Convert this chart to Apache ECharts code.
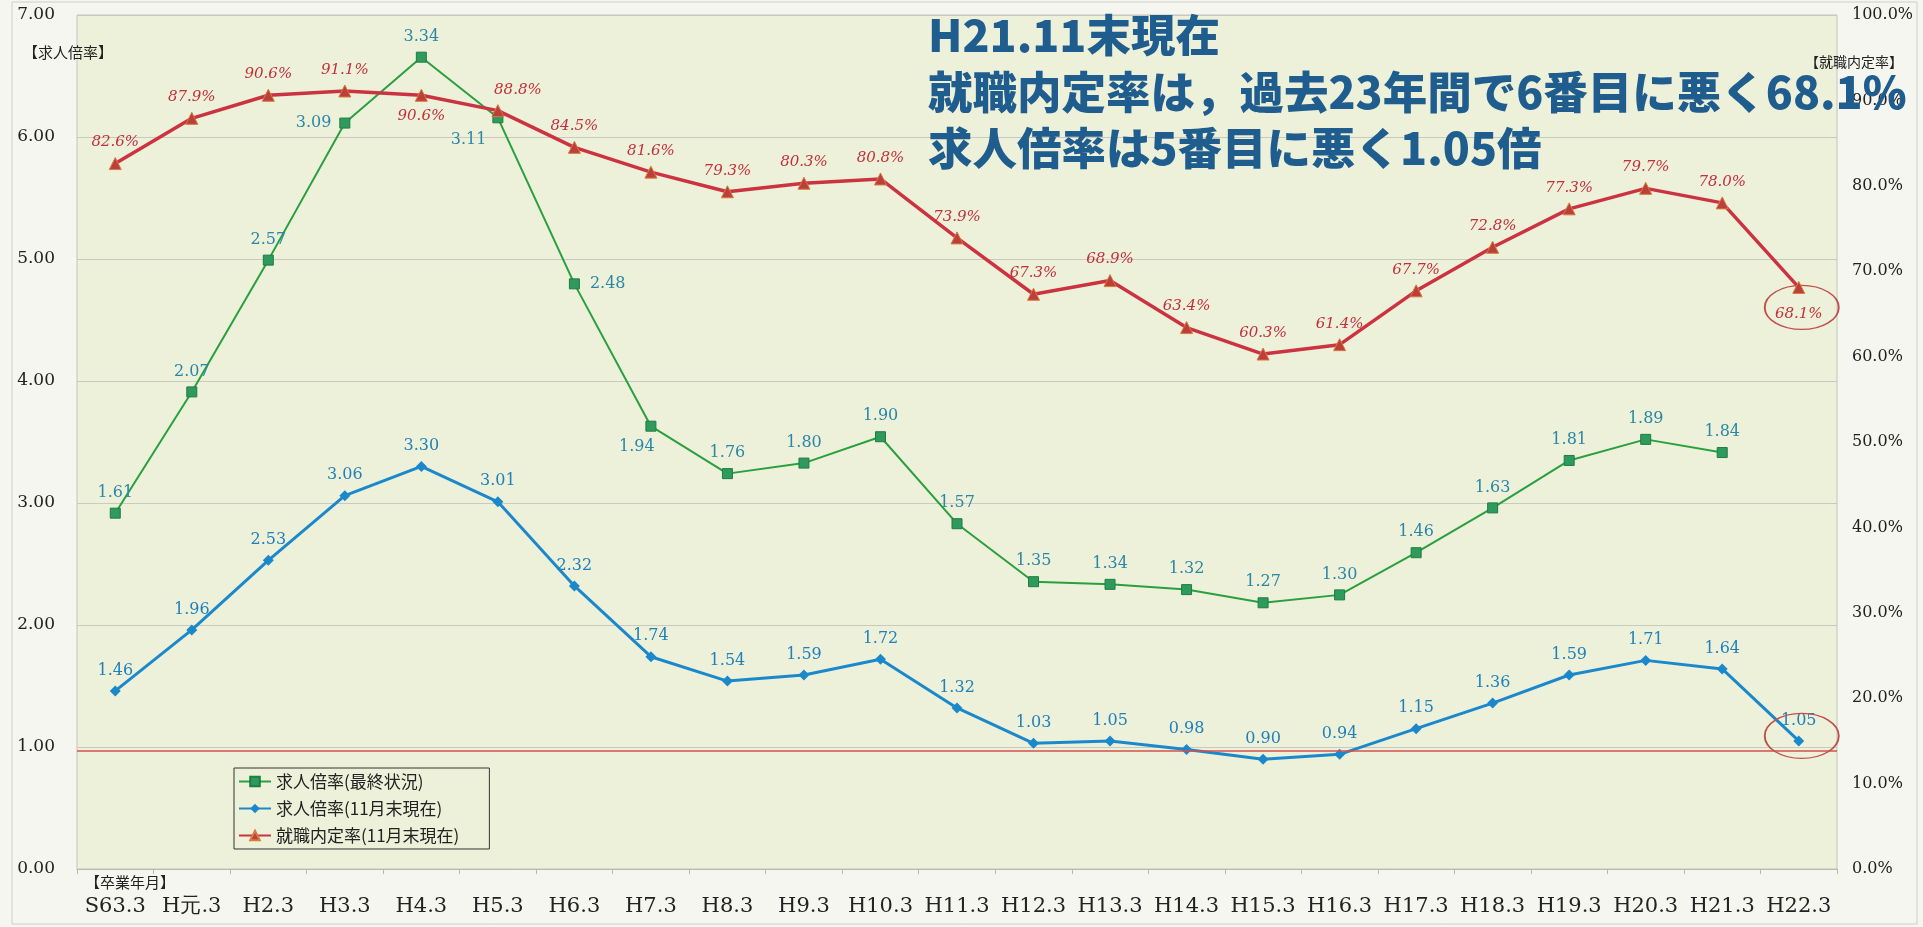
<!DOCTYPE html>
<html>
<head>
<meta charset="utf-8">
<title>求人倍率・就職内定率の推移</title>
<script src="https://cdn.jsdelivr.net/npm/echarts@6/dist/echarts.min.js"></script>
<style>
    html, body { margin: 0; padding: 0; background: #f5f6f0; }
    #main { width: 1923px; height: 927px; }
</style>
</head>
<body>
<div id="main"></div>
<script>
    // 卒業年月
    var categories = ['S63.3', 'H元.3', 'H2.3', 'H3.3', 'H4.3', 'H5.3', 'H6.3', 'H7.3', 'H8.3', 'H9.3', 'H10.3', 'H11.3',
        'H12.3', 'H13.3', 'H14.3', 'H15.3', 'H16.3', 'H17.3', 'H18.3', 'H19.3', 'H20.3', 'H21.3', 'H22.3'];
    // 求人倍率(最終状況)
    var finalRatio = [1.61, 2.07, 2.57, 3.09, 3.34, 3.11, 2.48, 1.94, 1.76, 1.80, 1.90, 1.57,
        1.35, 1.34, 1.32, 1.27, 1.30, 1.46, 1.63, 1.81, 1.89, 1.84, null];
    // 求人倍率(11月末現在)
    var novRatio = [1.46, 1.96, 2.53, 3.06, 3.30, 3.01, 2.32, 1.74, 1.54, 1.59, 1.72, 1.32,
        1.03, 1.05, 0.98, 0.90, 0.94, 1.15, 1.36, 1.59, 1.71, 1.64, 1.05];
    // 就職内定率(11月末現在)
    var naiteiRate = [82.6, 87.9, 90.6, 91.1, 90.6, 88.8, 84.5, 81.6, 79.3, 80.3, 80.8, 73.9,
        67.3, 68.9, 63.4, 60.3, 61.4, 67.7, 72.8, 77.3, 79.7, 78.0, 68.1];
    var seriesNames = ['求人倍率(最終状況)', '求人倍率(11月末現在)', '就職内定率(11月末現在)'];
    var titleLines = ['H21.11末現在', '就職内定率は，過去23年間で6番目に悪く68.1%', '求人倍率は5番目に悪く1.05倍'];
    var baseLine = 0.97;

    // ラベル位置の個別調整
    var greenLabelFix = {
        3: { position: 'left', distance: 8 },
        5: { position: 'left', distance: 6, offset: [0, 22] },
        6: { position: 'right', distance: 10 },
        7: { position: 'bottom', offset: [-14, 0] }
    };
    var redLabelFix = {
        4: { position: 'bottom' },
        5: { position: 'top', offset: [20, 0] },
        22: { position: 'bottom', distance: 13 }
    };

    function buildData(values, fix) {
        var list = [];
        for (var i = 0; i < values.length; i++) {
            var item = { value: values[i] };
            if (fix[i]) {
                item.label = fix[i];
            }
            list.push(item);
        }
        return list;
    }

    var serif = 'DejaVu Serif';
    var cjk = 'Noto Sans CJK JP';
    var myChart = echarts.init(document.getElementById('main'));
    var option = {
        backgroundColor: '#f5f6f0',
        animation: false,
        title: [
            {
                text: titleLines.join('\n'),
                left: 928,
                top: 7,
                padding: 0,
                textStyle: { fontFamily: cjk, fontSize: 44.5, fontWeight: 900, lineHeight: 56.5, color: '#1f5d8f' }
            },
            { text: '【求人倍率】', left: 18, top: 40, textStyle: { fontFamily: cjk, fontSize: 15, fontWeight: 'normal', color: '#222' } },
            { text: '【就職内定率】', left: 1800, top: 50, textStyle: { fontFamily: cjk, fontSize: 14, fontWeight: 'normal', color: '#222' } },
            { text: '【卒業年月】', left: 80, top: 870, textStyle: { fontFamily: cjk, fontSize: 15, fontWeight: 'normal', color: '#222' } }
        ],
        graphic: [
            { type: 'rect', shape: { x: 12, y: 2, width: 1905, height: 922 }, style: { fill: 'none', stroke: '#cfcfc8', lineWidth: 1 }, silent: true }
        ],
        legend: {
            orient: 'vertical',
            left: 234,
            top: 768,
            itemWidth: 32,
            itemHeight: 12,
            itemGap: 10,
            padding: [5, 30, 5, 4],
            backgroundColor: '#eef1da',
            borderColor: '#333',
            borderWidth: 1,
            borderRadius: 0,
            textStyle: { fontFamily: cjk, fontSize: 17, color: '#222' },
            data: seriesNames
        },
        grid: {
            left: 77,
            right: 86,
            top: 15,
            bottom: 58,
            show: true,
            backgroundColor: '#eef1da',
            borderColor: '#c4c4bc',
            borderWidth: 1
        },
        xAxis: {
            type: 'category',
            data: categories,
            boundaryGap: true,
            axisLine: { lineStyle: { color: '#b8b8b0' } },
            axisTick: { show: true, length: 5, lineStyle: { color: '#b8b8b0' } },
            axisLabel: { fontFamily: serif, fontSize: 21, color: '#222', margin: 27, interval: 0 }
        },
        yAxis: [
            {
                type: 'value',
                min: 0,
                max: 7,
                interval: 1,
                axisLine: { show: false },
                axisTick: { show: false },
                splitLine: { lineStyle: { color: '#c8c9c0' } },
                axisLabel: {
                    fontFamily: serif, fontSize: 17, color: '#222', margin: 22,
                    formatter: function (v) { return v.toFixed(2); }
                }
            },
            {
                type: 'value',
                min: 0,
                max: 100,
                interval: 10,
                position: 'right',
                axisLine: { show: false },
                axisTick: { show: false },
                splitLine: { show: false },
                axisLabel: {
                    fontFamily: serif, fontSize: 16, color: '#222', margin: 15,
                    formatter: function (v) { return v.toFixed(1) + '%'; }
                }
            },
            {
                // 最終状況の系列は元の図で別目盛りに描かれている
                type: 'value',
                min: 0.26,
                max: 3.5,
                show: false,
                splitLine: { show: false }
            }
        ],
        series: [
            {
                name: seriesNames[0],
                type: 'line',
                yAxisIndex: 2,
                data: buildData(finalRatio, greenLabelFix),
                symbol: 'rect',
                symbolSize: 10,
                lineStyle: { color: '#28a03e', width: 2 },
                itemStyle: { color: '#2e9a5e', borderColor: '#1f7d3e', borderWidth: 1 },
                label: {
                    show: true, position: 'top', distance: 7,
                    fontFamily: serif, fontSize: 16, color: '#2a87a6',
                    formatter: function (p) { return p.value.toFixed(2); }
                },
                z: 3
            },
            {
                name: seriesNames[1],
                type: 'line',
                yAxisIndex: 0,
                data: novRatio,
                symbol: 'diamond',
                symbolSize: 11,
                lineStyle: { color: '#1c88cc', width: 3 },
                itemStyle: { color: '#1c88cc' },
                label: {
                    show: true, position: 'top', distance: 7,
                    fontFamily: serif, fontSize: 16, color: '#1f80bb',
                    formatter: function (p) { return p.value.toFixed(2); }
                },
                markLine: {
                    silent: true,
                    symbol: 'none',
                    label: { show: false },
                    lineStyle: { color: '#d0524c', width: 1.5, type: 'solid' },
                    data: [{ yAxis: baseLine }]
                },
                markPoint: {
                    silent: true,
                    symbol: 'circle',
                    symbolSize: [74, 45],
                    symbolOffset: [3, -5],
                    itemStyle: { color: 'rgba(0,0,0,0)', borderColor: '#c0504d', borderWidth: 1.5 },
                    label: { show: false },
                    data: [{ coord: [categories.length - 1, novRatio[novRatio.length - 1]] }]
                },
                z: 4
            },
            {
                name: seriesNames[2],
                type: 'line',
                yAxisIndex: 1,
                data: buildData(naiteiRate, redLabelFix),
                symbol: 'triangle',
                symbolSize: 12,
                lineStyle: { color: '#cc3340', width: 3.5 },
                itemStyle: { color: '#bb3f3a', borderColor: '#d67a3e', borderWidth: 1 },
                label: {
                    show: true, position: 'top', distance: 7,
                    fontFamily: serif, fontSize: 15, fontStyle: 'italic', color: '#c2303c',
                    formatter: function (p) { return p.value.toFixed(1) + '%'; }
                },
                markPoint: {
                    silent: true,
                    symbol: 'circle',
                    symbolSize: [74, 44],
                    symbolOffset: [3, 20],
                    itemStyle: { color: 'rgba(0,0,0,0)', borderColor: '#c0504d', borderWidth: 1.5 },
                    label: { show: false },
                    data: [{ coord: [categories.length - 1, naiteiRate[naiteiRate.length - 1]] }]
                },
                z: 5
            }
        ]
    };
    myChart.setOption(option);
</script>
</body>
</html>
